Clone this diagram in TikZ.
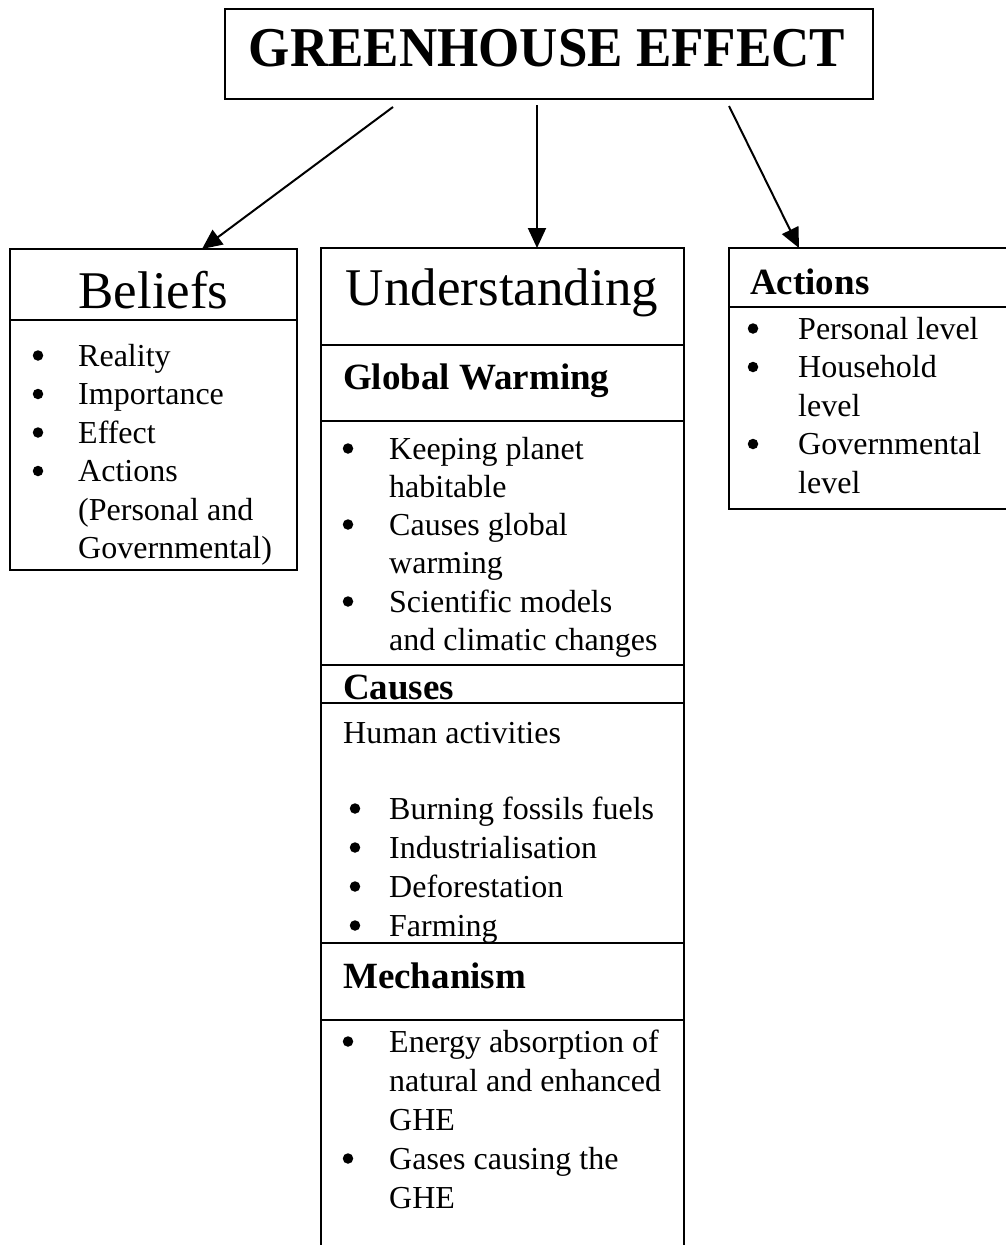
\documentclass[tikz,border=0pt]{standalone}
\usepackage{fontspec}
\setmainfont{Liberation Serif}
\usetikzlibrary{arrows.meta}

% font sizes (1pt in the picture = 1 unit of the grid)
\newcommand\bodyfont{\fontsize{32}{38}\selectfont}
\newcommand\headfont{\fontsize{53}{60}\selectfont}
\newcommand\subfont{\fontsize{37}{42}\selectfont\bfseries}
\newcommand\titlefont{\fontsize{53}{60}\selectfont\bfseries}

% bullet entry: name, bullet x, text x, baseline y, text
\newcommand\bitem[5]{%
  \node[dot] (#1b) at (#2,#4-10.5) {};
  \node[txt] (#1) at (#3,#4) {#5};}
% continuation line: name, x, baseline y, text
\newcommand\bline[4]{\node[txt] (#1) at (#2,#3) {#4};}

\tikzset{
  box/.style={draw, line width=1.9pt, inner sep=0pt, outer sep=0pt, anchor=north west},
  rule/.style={line width=1.9pt},
  txt/.style={anchor=base west, inner sep=0pt, font=\bodyfont},
  dot/.style={circle, fill, inner sep=0pt, minimum size=10.5pt},
  sub/.style={anchor=base west, inner sep=0pt, font=\subfont},
  head/.style={anchor=base, inner sep=0pt, font=\headfont},
  arr/.style={line width=2pt, -{Triangle[length=20pt,width=18pt]}},
}

\begin{document}
\begin{tikzpicture}[x=1pt, y=-1pt]
\useasboundingbox (0,0) rectangle (1006,1245);

% title
\node[box, minimum width=648pt, minimum height=90pt] (titlebox) at (225,9) {};
\node[anchor=base, inner sep=0pt, font=\titlefont, yscale=1.06] (titletext) at (547,66) {GREENHOUSE EFFECT};

% three boxes
\node[box, minimum width=287pt, minimum height=321pt] (beliefs) at (10,249) {};
\node[box, minimum width=363pt, minimum height=1030pt] (underst) at (321,248) {};
\node[box, minimum width=300pt, minimum height=261pt] (actions) at (729,248) {};

% arrows from the title
\coordinate (s1) at (393,107);
\coordinate (s2) at (537,105);
\coordinate (s3) at (729,106);
\draw[arr] (s1) -- (beliefs.north -| 202,0);
\draw[arr] (s2) -- (underst.north -| 537,0);
\draw[arr] (s3) -- (actions.north -| 799,0);

% Beliefs
\node[head] (beliefstitle) at (153.5,308) {Beliefs};
\draw[rule] (beliefs.west |- 0,320) -- (beliefs.east |- 0,320);
\bitem{bel1}{38}{78}{366}{Reality}
\bitem{bel2}{38}{78}{404.5}{Importance}
\bitem{bel3}{38}{78}{443}{Effect}
\bitem{bel4}{38}{78}{481.5}{Actions}
\bline{bel5}{78}{520}{(Personal and}
\bline{bel6}{78}{558.5}{Governmental)}

% Understanding
\node[head] (undtitle) at (502,305) {Understanding};
\draw[rule] (underst.west |- 0,345) -- (underst.east |- 0,345);
\node[sub] (gw) at (343,389) {Global Warming};
\draw[rule] (underst.west |- 0,421) -- (underst.east |- 0,421);
\bitem{gw1}{348}{389}{459}{Keeping planet}
\bline{gw1b}{389}{497}{habitable}
\bitem{gw2}{348}{389}{535}{Causes global}
\bline{gw2b}{389}{573.5}{warming}
\bitem{gw3}{348}{389}{612}{Scientific models}
\bline{gw3b}{389}{650}{and climatic changes}
\draw[rule] (underst.west |- 0,665) -- (underst.east |- 0,665);
\node[sub] (causes) at (343,699) {Causes};
\draw[rule] (underst.west |- 0,703) -- (underst.east |- 0,703);
\bline{human}{343}{743}{Human activities}
\bitem{ca1}{355}{389}{819}{Burning fossils fuels}
\bitem{ca2}{355}{389}{858}{Industrialisation}
\bitem{ca3}{355}{389}{897}{Deforestation}
\bitem{ca4}{355}{389}{936}{Farming}
\draw[rule] (underst.west |- 0,943) -- (underst.east |- 0,943);
\node[sub] (mech) at (343,988) {Mechanism};
\draw[rule] (underst.west |- 0,1020) -- (underst.east |- 0,1020);
\bitem{me1}{348}{389}{1052}{Energy absorption of}
\bline{me1b}{389}{1091}{natural and enhanced}
\bline{me1c}{389}{1130}{GHE}
\bitem{me2}{348}{389}{1169}{Gases causing the}
\bline{me2b}{389}{1208}{GHE}

% Actions
\node[sub] (acttitle) at (750,294) {Actions};
\draw[rule] (actions.west |- 0,307) -- (actions.east |- 0,307);
\bitem{ac1}{753}{798}{339}{Personal level}
\bitem{ac2}{753}{798}{377.5}{Household}
\bline{ac2b}{798}{416}{level}
\bitem{ac3}{753}{798}{454.5}{Governmental}
\bline{ac3b}{798}{493}{level}
\end{tikzpicture}
\end{document}
